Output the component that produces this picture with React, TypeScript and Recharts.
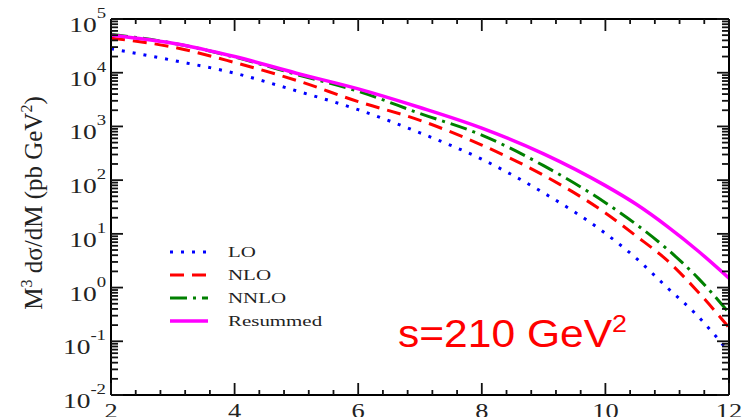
import { LineChart, Line, XAxis, YAxis } from "recharts";

// invariant mass M (GeV)
const M = [2, 3, 4, 5, 6, 7, 8, 9, 10, 10.5, 11, 11.5, 12];
// M^3 dsigma/dM (pb GeV^2)
const LO = [28000, 17000, 9800, 4600, 2050, 760, 245, 58, 10.2, 3.5, 1.0, 0.29, 0.063];
const NLO = [44000, 30000, 15500, 7200, 2900, 1300, 450, 123, 24.5, 9.1, 3.2, 0.83, 0.18];
const NNLO = [52000, 35500, 19500, 9300, 4500, 1740, 690, 186, 38, 15, 5.2, 1.5, 0.34];
const RESUMMED = [50000, 35500, 20000, 9800, 5000, 2250, 930, 309, 79, 35.5, 13.8, 4.8, 1.5];

const X_MAJOR = [2, 4, 6, 8, 10, 12];
const Y_DECADES = [-2, -1, 0, 1, 2, 3, 4, 5];

const data = M.map((m, i) => ({
  m,
  lo: LO[i],
  nlo: NLO[i],
  nnlo: NNLO[i],
  res: RESUMMED[i],
}));

const xTicks: number[] = [];
for (let k = 0; k <= 25; k++) xTicks.push(Math.round((2 + 0.4 * k) * 10) / 10);

const yTicks: number[] = [];
Y_DECADES.forEach((d) => {
  if (d === 5) {
    yTicks.push(1e5);
    return;
  }
  for (let k = 1; k <= 9; k++) yTicks.push(Number((k * Math.pow(10, d)).toPrecision(3)));
});

const SERIF = "'Liberation Serif', 'DejaVu Serif', serif";
const TICK = "#111";
const INK = "#222";

const isMajorX = (v: number) => X_MAJOR.some((t) => Math.abs(t - v) < 1e-6);
const isDecade = (v: number) => {
  const l = Math.log10(v);
  return Math.abs(l - Math.round(l)) < 1e-6;
};

function LeftTick({ x, y, payload }: any) {
  const v = payload.value;
  const major = isDecade(v);
  return (
    <g>
      <line x1={x} x2={x + (major ? 12 : 7)} y1={y} y2={y} stroke={TICK} strokeWidth={1.8} />
      {major && (
        <text
          transform={`translate(${x - 5} ${y + 13}) scale(1.25 1)`}
          textAnchor="end"
          fontFamily={SERIF}
          fontSize={22}
          fill={INK}
        >
          10
          <tspan dy={-14} fontSize={15}>
            {Math.round(Math.log10(v))}
          </tspan>
        </text>
      )}
    </g>
  );
}

function RightTick({ x, y, payload }: any) {
  const major = isDecade(payload.value);
  return <line x1={x} x2={x - (major ? 12 : 7)} y1={y} y2={y} stroke={TICK} strokeWidth={1.8} />;
}

function BottomTick({ x, y, payload }: any) {
  const major = isMajorX(payload.value);
  return (
    <g>
      <line x1={x} x2={x} y1={y} y2={y - (major ? 12 : 5)} stroke={TICK} strokeWidth={1.8} />
      {major && (
        <text
          transform={`translate(${x} ${y + 23}) scale(1.2 1)`}
          textAnchor="middle"
          fontFamily={SERIF}
          fontSize={22}
          fill={INK}
        >
          {payload.value}
        </text>
      )}
    </g>
  );
}

function TopTick({ x, y, payload }: any) {
  const major = isMajorX(payload.value);
  return <line x1={x} x2={x} y1={y} y2={y + (major ? 12 : 5)} stroke={TICK} strokeWidth={1.8} />;
}

const SERIES = [
  { key: "lo", name: "LO", color: "#0000ff", dash: "3 8", width: 3 },
  { key: "nlo", name: "NLO", color: "#ff0000", dash: "14 8", width: 3 },
  { key: "nnlo", name: "NNLO", color: "#008000", dash: "17 6 3 6", width: 3 },
  { key: "res", name: "Resummed", color: "#ff00ff", dash: undefined, width: 3.5 },
];

const axisLine = { stroke: "#000", strokeWidth: 2 };

export default function App() {
  return (
    <div style={{ position: "absolute", left: 0, top: 0, width: 745, height: 417, background: "#fff" }}>
      <LineChart width={745} height={417} data={data} margin={{ top: 0, right: 0, bottom: 0, left: 0 }}>
        <XAxis
          dataKey="m"
          type="number"
          domain={[2, 12]}
          allowDataOverflow
          ticks={xTicks}
          interval={0}
          height={22}
          tickSize={0}
          tickMargin={0}
          tick={<BottomTick />}
          axisLine={axisLine}
        />
        <XAxis
          xAxisId="top"
          orientation="top"
          dataKey="m"
          type="number"
          domain={[2, 12]}
          allowDataOverflow
          ticks={xTicks}
          interval={0}
          height={19}
          tickSize={0}
          tickMargin={0}
          tick={<TopTick />}
          axisLine={axisLine}
        />
        <YAxis
          type="number"
          scale="log"
          domain={[0.01, 100000]}
          allowDataOverflow
          ticks={yTicks}
          interval={0}
          width={111}
          tickSize={0}
          tickMargin={0}
          tick={<LeftTick />}
          axisLine={axisLine}
        />
        <YAxis
          yAxisId="right"
          orientation="right"
          type="number"
          scale="log"
          domain={[0.01, 100000]}
          allowDataOverflow
          ticks={yTicks}
          interval={0}
          width={16}
          tickSize={0}
          tickMargin={0}
          tick={<RightTick />}
          axisLine={axisLine}
        />
        {SERIES.map((s) => (
          <Line
            key={s.key}
            dataKey={s.key}
            name={s.name}
            type="monotone"
            stroke={s.color}
            strokeWidth={s.width}
            strokeDasharray={s.dash}
            dot={false}
            activeDot={false}
            isAnimationActive={false}
          />
        ))}
      </LineChart>

      {/* title, legend, annotation */}
      <svg
        width={745}
        height={417}
        style={{ position: "absolute", left: 0, top: 0, pointerEvents: "none" }}
      >
        <text
          transform="translate(42 203) rotate(-90)"
          textAnchor="middle"
          fontFamily={SERIF}
          fontSize={25}
          fill={INK}
        >
          M<tspan dy={-10} fontSize={16}>3</tspan>
          <tspan dy={10}> dσ/dM (pb GeV</tspan>
          <tspan dy={-10} fontSize={16}>2</tspan>
          <tspan dy={10}>)</tspan>
        </text>

        {SERIES.map((s, i) => {
          const y = 252 + i * 23;
          return (
            <g key={s.key}>
              <line
                x1={170}
                x2={208}
                y1={y}
                y2={y}
                stroke={s.color}
                strokeWidth={s.width}
                strokeDasharray={s.dash}
              />
              <text
                transform={`translate(228 ${y + 5}) scale(1.35 1)`}
                fontFamily={SERIF}
                fontSize={15.5}
                fill={INK}
              >
                {s.name}
              </text>
            </g>
          );
        })}

        <text
          transform="translate(398 347) scale(1.12 1)"
          fontFamily="'Liberation Sans', Arial, sans-serif"
          fontSize={38}
          fill="#ff0000"
        >
          s=210 GeV<tspan dy={-15} fontSize={24}>2</tspan>
        </text>
      </svg>
    </div>
  );
}
